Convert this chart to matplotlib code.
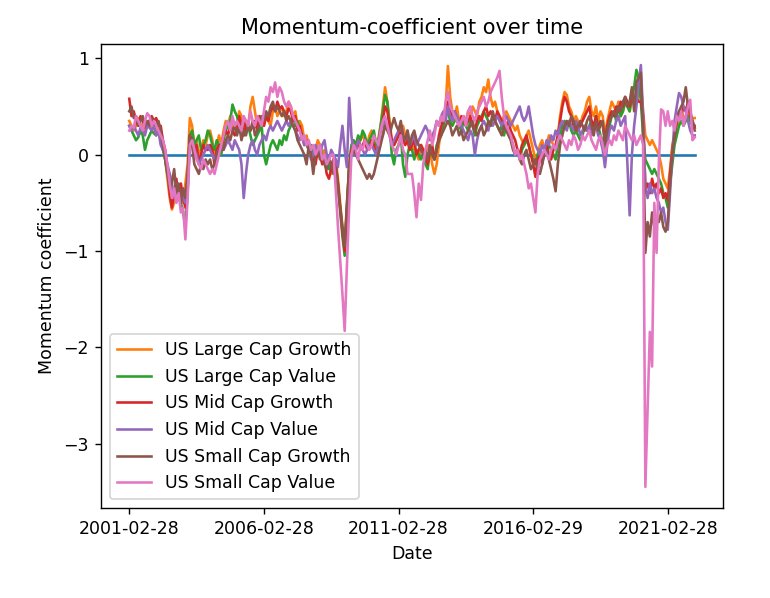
import numpy as np
import pandas as pd
import matplotlib
matplotlib.use("Agg")
import matplotlib.pyplot as plt

n_months = 253
dates = pd.date_range("2001-02-28", periods=n_months, freq="ME").strftime("%Y-%m-%d").tolist()

large_cap_growth = [
    0.35,0.30,0.25,0.30,0.38,0.32,0.28,0.25,0.30,0.35,0.28,0.30,
    0.25,0.30,0.20,0.10,-0.05,-0.25,-0.45,-0.57,-0.50,-0.30,-0.45,-0.35,
    -0.50,-0.30,-0.10,0.38,0.30,0.10,0.15,0.00,0.05,0.15,0.10,0.20,
    0.25,0.15,0.00,0.10,0.20,0.10,0.25,0.35,0.30,0.40,0.30,0.25,
    0.30,0.45,0.40,0.25,0.35,0.30,0.50,0.60,0.45,0.30,0.40,0.35,
    0.30,0.40,0.35,0.30,0.45,0.50,0.40,0.45,0.50,0.40,0.45,0.55,
    0.50,0.40,0.45,0.30,0.35,0.30,0.15,0.20,0.10,0.05,0.00,0.05,
    0.15,0.10,0.00,0.05,-0.05,-0.10,-0.20,-0.05,-0.05,-0.25,-0.50,-0.75,
    -0.90,-0.55,-0.10,0.05,0.10,0.05,0.10,0.15,0.20,0.15,0.10,0.20,
    0.25,0.15,0.05,0.15,0.30,0.50,0.70,0.55,0.35,0.15,0.10,0.15,
    0.20,0.25,0.30,0.20,0.15,0.05,0.10,0.05,0.00,-0.05,0.10,0.05,
    0.00,0.10,0.05,-0.10,-0.20,-0.10,0.10,0.25,0.40,0.50,0.92,0.60,
    0.45,0.40,0.50,0.35,0.30,0.40,0.35,0.45,0.40,0.50,0.45,0.40,
    0.55,0.60,0.70,0.65,0.78,0.60,0.50,0.55,0.45,0.40,0.35,0.40,
    0.45,0.40,0.35,0.30,0.25,0.30,0.20,0.15,0.10,0.20,0.25,0.15,
    0.05,-0.05,0.00,0.10,0.15,0.05,0.10,0.20,0.15,0.10,0.05,0.20,
    0.40,0.55,0.65,0.62,0.50,0.45,0.35,0.40,0.35,0.30,0.40,0.45,
    0.55,0.60,0.45,0.40,0.50,0.35,0.45,0.40,0.20,0.35,0.45,0.55,
    0.50,0.45,0.55,0.40,0.45,0.55,0.50,0.45,0.60,0.55,0.65,0.60,
    0.75,0.45,0.20,0.15,0.10,0.15,0.10,0.05,0.00,-0.10,-0.25,-0.30,
    -0.35,-0.15,0.10,0.20,0.30,0.35,0.45,0.40,0.35,0.45,0.40,0.38,
    0.38,
]

large_cap_value = [
    0.30,0.25,0.20,0.15,0.18,0.25,0.20,0.05,0.15,0.20,0.25,0.22,
    0.20,0.25,0.15,0.05,-0.05,-0.20,-0.20,-0.35,-0.40,-0.30,-0.45,-0.50,
    -0.60,-0.75,-0.40,0.20,0.25,0.10,0.15,0.20,0.05,0.10,0.15,0.25,
    0.20,0.10,0.05,0.15,0.10,0.00,0.15,0.25,0.30,0.35,0.52,0.45,
    0.40,0.30,0.35,0.20,0.25,0.30,0.20,0.10,0.15,0.20,0.25,0.30,
    0.00,-0.10,0.00,0.10,0.15,0.10,0.05,0.15,0.10,0.20,0.15,0.25,
    0.30,0.40,0.30,0.35,0.25,0.20,0.15,0.10,0.05,0.10,0.00,-0.05,
    0.05,0.10,0.00,-0.05,0.00,-0.15,-0.10,-0.05,-0.10,-0.30,-0.60,-0.85,
    -1.05,-0.55,-0.10,0.10,0.15,0.10,0.20,0.15,0.25,0.20,0.10,0.15,
    0.20,0.25,0.10,0.15,0.30,0.45,0.62,0.55,0.30,0.00,-0.10,0.05,
    0.10,0.20,-0.10,-0.23,0.00,0.10,0.05,-0.05,0.05,0.00,-0.05,0.00,
    -0.10,-0.15,0.05,0.00,-0.05,0.10,0.15,0.20,0.30,0.40,0.45,0.35,
    0.30,0.35,0.40,0.30,0.25,0.35,0.30,0.25,0.35,0.30,0.20,0.30,
    0.35,0.40,0.45,0.40,0.35,0.30,0.40,0.35,0.30,0.25,0.30,0.20,
    0.30,0.25,0.20,0.10,0.00,0.05,-0.05,0.05,0.10,0.15,0.10,0.00,
    -0.05,-0.10,0.00,0.05,-0.05,0.00,0.05,0.10,0.05,0.00,-0.05,0.10,
    0.20,0.30,0.35,0.30,0.35,0.25,0.20,0.25,0.20,0.15,0.20,0.30,
    0.25,0.30,0.35,0.25,0.40,0.30,0.20,0.15,0.05,0.20,0.30,0.40,
    0.45,0.35,0.50,0.40,0.45,0.55,0.50,0.45,0.60,0.70,0.88,0.80,
    0.55,0.20,-0.05,-0.10,-0.15,-0.20,-0.15,-0.20,-0.25,-0.30,-0.40,-0.45,
    -0.55,-0.30,-0.10,0.10,0.20,0.30,0.35,0.30,0.35,0.40,0.35,0.30,
    0.30,
]

mid_cap_growth = [
    0.58,0.40,0.45,0.35,0.30,0.40,0.35,0.28,0.30,0.35,0.40,0.35,
    0.38,0.30,0.30,0.15,0.05,-0.15,-0.40,-0.55,-0.40,-0.25,-0.45,-0.30,
    -0.45,-0.55,-0.25,0.20,0.15,0.00,0.10,-0.10,0.00,0.10,0.05,0.05,
    0.10,0.05,-0.10,0.05,0.10,0.05,0.20,0.25,0.20,0.30,0.25,0.20,
    0.25,0.40,0.30,0.20,0.35,0.30,0.25,0.30,0.35,0.25,0.40,0.35,
    0.30,0.40,0.35,0.45,0.50,0.45,0.55,0.48,0.50,0.45,0.40,0.48,
    0.45,0.35,0.40,0.25,0.30,0.20,0.10,0.15,0.05,0.00,-0.05,-0.10,
    0.05,0.00,-0.10,-0.05,-0.20,-0.25,-0.15,-0.05,-0.10,-0.30,-0.55,-0.80,
    -1.00,-0.60,-0.15,0.05,0.10,0.05,0.15,0.05,0.10,0.15,0.05,0.10,
    0.15,0.10,0.00,0.10,0.25,0.35,0.50,0.45,0.30,0.15,0.10,0.15,
    0.20,0.25,0.15,0.10,0.15,0.05,0.10,0.15,0.00,0.05,0.10,0.05,
    0.00,-0.10,0.05,0.10,-0.05,0.05,0.20,0.30,0.35,0.40,0.55,0.45,
    0.40,0.45,0.35,0.30,0.40,0.35,0.30,0.35,0.40,0.30,0.25,0.35,
    0.40,0.35,0.45,0.50,0.40,0.45,0.40,0.35,0.45,0.40,0.35,0.30,
    0.30,0.35,0.25,0.20,0.15,0.05,0.00,0.10,0.15,0.20,0.10,0.00,
    -0.10,-0.23,-0.05,0.00,-0.10,0.05,0.10,0.00,-0.05,0.05,0.10,0.20,
    0.35,0.50,0.60,0.55,0.45,0.40,0.30,0.35,0.25,0.30,0.35,0.40,
    0.45,0.50,0.35,0.30,0.40,0.25,0.35,0.30,0.15,0.30,0.40,0.45,
    0.40,0.50,0.45,0.55,0.50,0.60,0.55,0.50,0.65,0.55,0.60,0.55,
    0.55,0.40,-0.35,-0.30,-0.40,-0.25,-0.35,-0.30,-0.40,-0.35,-0.45,-0.40,
    -0.47,-0.20,0.05,0.20,0.35,0.45,0.40,0.50,0.45,0.55,0.40,0.35,
    0.28,
]

mid_cap_value = [
    0.30,0.25,0.30,0.25,0.20,0.28,0.25,0.20,0.30,0.28,0.25,0.30,
    0.20,0.25,0.10,0.05,0.00,-0.10,-0.20,-0.30,-0.45,-0.30,-0.35,-0.40,
    -0.45,-0.50,-0.35,0.10,0.15,0.05,0.00,-0.10,-0.05,0.00,0.05,0.10,
    0.05,0.00,-0.05,0.00,0.05,0.10,0.05,0.10,0.15,0.10,0.05,0.15,
    0.10,0.05,-0.10,-0.45,-0.20,0.00,0.10,0.15,0.05,0.00,0.10,0.15,
    0.20,0.15,0.25,0.30,0.25,0.30,0.35,0.30,0.25,0.30,0.35,0.30,
    0.35,0.30,0.25,0.20,0.15,0.20,0.10,0.15,0.05,-0.05,0.00,0.10,
    0.05,0.00,0.10,0.15,0.00,-0.05,0.05,0.00,-0.05,-0.13,0.10,0.30,
    0.05,-0.13,0.59,0.20,0.00,0.05,0.15,0.10,0.05,0.00,0.05,0.10,
    0.10,0.05,0.00,0.10,0.15,0.20,0.35,0.30,0.20,0.10,0.15,0.20,
    0.25,0.30,0.20,0.15,0.25,0.10,0.15,0.20,0.10,0.15,0.20,0.25,
    0.30,0.25,0.15,0.20,0.25,0.35,0.30,0.40,0.45,0.35,0.50,0.40,
    0.35,0.45,0.40,0.35,0.30,0.25,0.20,0.15,0.25,0.20,0.00,0.15,
    0.25,0.30,0.35,0.30,0.25,0.35,0.30,0.35,0.40,0.35,0.30,0.35,
    0.40,0.35,0.30,0.35,0.40,0.45,0.50,0.40,0.35,0.40,0.50,0.35,
    0.20,0.10,0.05,0.00,0.10,0.05,0.15,0.10,0.20,0.15,0.25,0.20,
    0.30,0.35,0.30,0.25,0.35,0.30,0.25,0.35,0.30,0.20,0.25,0.30,
    0.25,0.30,0.20,0.25,0.30,0.20,0.15,0.05,-0.13,0.10,0.25,0.30,
    0.25,0.35,0.40,0.30,0.35,0.40,-0.10,-0.63,0.00,0.30,0.50,0.75,
    0.93,0.40,-0.35,-0.45,-0.30,-0.40,-0.35,-0.45,-0.50,-0.60,-0.55,-0.70,
    -0.78,-0.40,0.00,0.35,0.50,0.64,0.60,0.50,0.45,0.35,0.25,0.20,
    0.20,
]

small_cap_growth = [
    0.45,0.50,0.38,0.40,0.30,0.35,0.40,0.30,0.35,0.30,0.38,0.32,
    0.30,0.35,0.25,0.10,-0.05,-0.20,-0.35,-0.30,-0.15,-0.40,-0.30,-0.50,
    -0.35,-0.45,-0.20,0.20,0.10,-0.10,-0.15,-0.20,-0.10,-0.15,-0.05,-0.10,
    -0.05,-0.15,-0.10,0.00,0.05,0.10,0.05,0.15,0.20,0.15,0.25,0.30,
    0.20,0.30,0.15,0.25,0.20,0.30,0.25,0.35,0.20,0.25,0.30,0.40,
    0.35,0.45,0.40,0.50,0.55,0.45,0.50,0.45,0.40,0.45,0.35,0.40,
    0.35,0.30,0.25,0.15,0.10,0.05,0.00,-0.10,0.10,0.00,-0.20,0.00,
    0.05,-0.05,0.00,-0.10,-0.15,-0.05,-0.10,-0.20,-0.15,-0.35,-0.55,-0.75,
    -0.95,-0.50,-0.15,0.00,0.05,0.00,-0.05,-0.10,-0.15,-0.20,-0.25,-0.20,
    -0.25,-0.20,-0.10,0.00,0.10,0.20,0.30,0.25,0.20,0.30,0.38,0.30,
    0.25,0.35,0.20,0.15,0.25,0.10,0.20,0.25,0.15,0.10,0.05,0.00,
    0.05,-0.05,0.10,0.00,-0.05,0.05,0.15,0.20,0.25,0.30,0.35,0.30,
    0.20,0.25,0.30,0.20,0.25,0.15,0.20,0.25,0.30,0.35,0.25,0.20,
    0.25,0.30,0.20,0.25,0.35,0.30,0.45,0.35,0.30,0.25,0.20,0.30,
    0.25,0.20,0.15,0.05,0.00,0.05,-0.05,-0.10,0.00,0.05,-0.05,-0.15,
    -0.10,-0.05,-0.15,-0.20,-0.10,0.00,0.05,-0.05,-0.15,-0.25,-0.38,-0.10,
    0.10,0.20,0.30,0.35,0.30,0.40,0.35,0.25,0.30,0.35,0.30,0.25,
    0.35,0.40,0.30,0.20,0.35,0.25,0.30,0.35,0.10,0.25,0.35,0.40,
    0.45,0.40,0.50,0.45,0.55,0.60,0.50,0.55,0.70,0.45,0.75,0.80,
    0.85,0.20,-1.02,-0.70,-0.85,-0.60,-0.75,-0.65,-0.70,-0.60,-0.75,-0.80,
    -0.70,-0.30,0.00,0.20,0.35,0.45,0.50,0.55,0.70,0.50,0.45,0.35,
    0.25,
]

small_cap_value = [
    0.25,0.30,0.28,0.40,0.35,0.30,0.25,0.35,0.43,0.40,0.30,0.35,
    0.30,0.25,0.20,0.15,0.05,-0.10,-0.30,-0.45,-0.35,-0.50,-0.40,-0.60,
    -0.55,-0.88,-0.45,0.10,0.15,0.05,-0.05,-0.10,-0.15,-0.05,-0.10,-0.15,
    -0.20,-0.15,-0.20,-0.10,0.00,0.10,0.20,0.30,0.35,0.25,0.40,0.30,
    0.35,0.30,0.25,0.40,0.35,0.30,0.45,0.35,0.30,0.40,0.35,0.30,
    0.45,0.60,0.55,0.70,0.65,0.75,0.60,0.70,0.65,0.55,0.50,0.55,
    0.50,0.40,0.35,0.30,0.25,0.15,0.20,0.10,0.15,0.05,0.10,0.00,
    0.05,0.10,-0.05,0.00,-0.10,-0.05,0.00,0.00,-0.35,-0.75,-1.10,-1.45,
    -1.83,-1.15,-0.55,0.00,0.10,0.05,-0.05,0.10,0.05,0.15,0.10,0.05,
    0.10,0.20,0.15,0.10,0.25,0.35,0.40,0.30,0.20,0.10,0.05,0.00,
    0.10,0.20,0.05,0.00,-0.20,-0.20,-0.20,-0.40,-0.65,-0.30,-0.47,-0.10,
    0.05,0.15,0.25,0.10,0.20,0.35,0.30,0.40,0.35,0.55,0.65,0.50,
    0.45,0.40,0.35,0.30,0.35,0.40,0.30,0.45,0.50,0.40,0.35,0.45,
    0.50,0.55,0.60,0.50,0.55,0.65,0.70,0.75,0.80,0.87,0.60,0.40,
    0.30,0.25,0.20,0.10,0.00,0.05,-0.05,0.00,-0.10,-0.20,-0.35,-0.30,
    -0.45,-0.60,-0.20,-0.05,0.00,0.05,0.00,-0.05,0.05,0.10,0.05,0.15,
    0.20,0.15,0.10,0.05,0.15,0.10,0.20,0.15,0.05,0.10,0.20,0.15,
    0.20,0.25,0.15,0.10,0.05,0.15,0.20,0.10,0.00,0.10,0.15,0.10,
    0.20,0.15,0.25,0.20,0.15,0.30,0.25,0.20,0.15,0.20,0.10,0.15,
    0.20,0.10,-3.45,-2.65,-1.84,-2.20,-0.50,-1.02,-0.10,0.47,0.45,0.30,
    0.45,0.30,0.35,0.25,0.40,0.35,0.45,0.30,0.40,0.50,0.57,0.15,
    0.18,
]

series_names = [
    "US Large Cap Growth",
    "US Large Cap Value",
    "US Mid Cap Growth",
    "US Mid Cap Value",
    "US Small Cap Growth",
    "US Small Cap Value",
]
series_values = [large_cap_growth, large_cap_value, mid_cap_growth,
                 mid_cap_value, small_cap_growth, small_cap_value]
zero_line = [0.0] * n_months
tick_step = 60

fig = plt.figure(figsize=(6.16, 4.784), dpi=125)
ax = fig.add_axes([101/770, 90/598, 622/770, 464/598])

x = np.arange(n_months)
ax.plot(x, zero_line)
for name, vals in zip(series_names, series_values):
    ax.plot(x, vals, label=name)

ticks = list(range(0, n_months, tick_step))
ax.set_xticks(ticks)
ax.set_xticklabels([dates[t] for t in ticks])
ax.set_title("Momentum-coefficient over time")
ax.set_xlabel("Date")
ax.set_ylabel("Momentum coefficient")
ax.legend(loc="lower left")

fig.savefig("out.png", dpi=125)
